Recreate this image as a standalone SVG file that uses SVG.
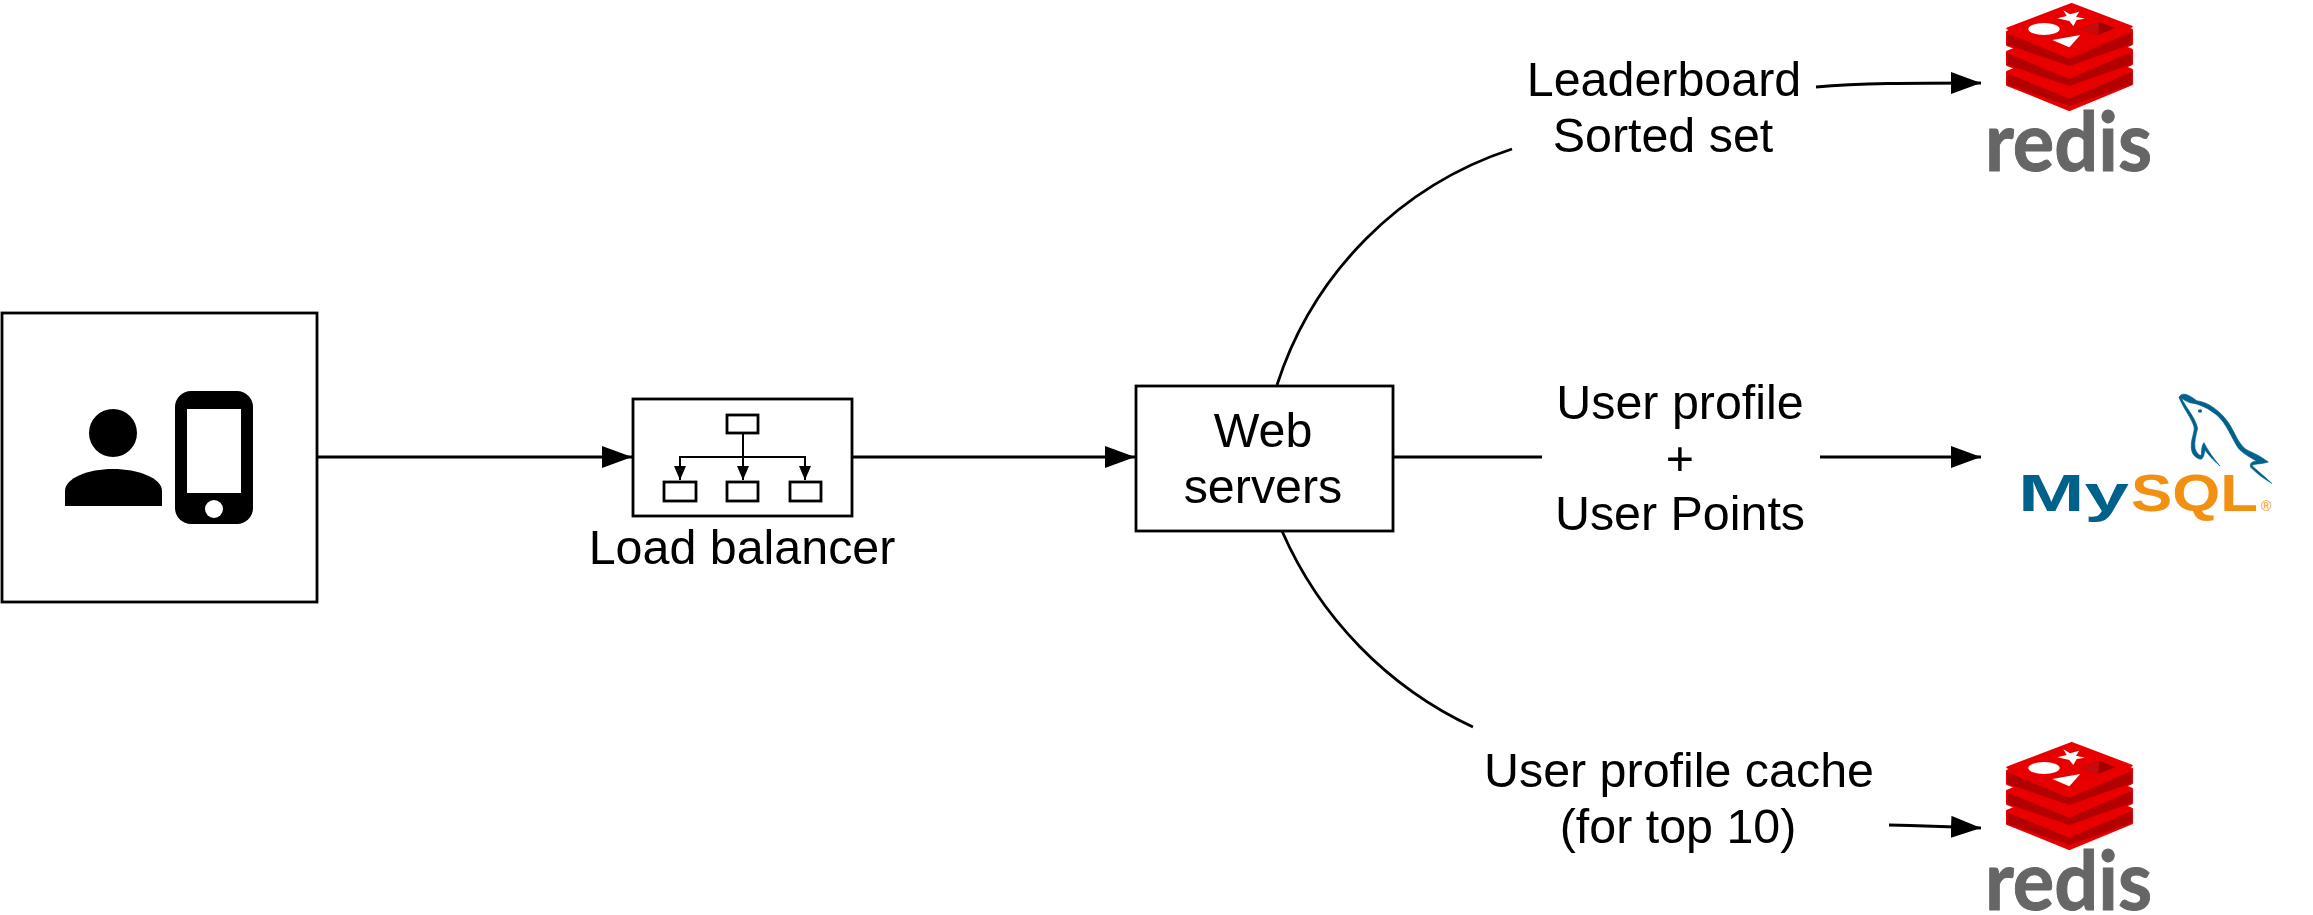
<svg xmlns="http://www.w3.org/2000/svg" xmlns:xlink="http://www.w3.org/1999/xlink" width="2313" height="915" viewBox="0 0 2313 915">
<style>
.box{fill:#fff;stroke:#000;stroke-width:2.8}
.edge{fill:none;stroke:#000;stroke-width:2.8}
.thin{fill:none;stroke:#000;stroke-width:2}
.mini{fill:#fff;stroke:#000;stroke-width:2.8}
text{font-family:"Liberation Sans",Arial,Helvetica,sans-serif;font-size:48.4px;fill:#000;text-anchor:middle}
.redis{font-family:Lato,"Noto Sans",sans-serif;font-size:83px;font-weight:700;fill:#666;stroke:#666;stroke-width:1;stroke-linejoin:round;text-anchor:start}
.my{font-size:52px;font-weight:700;text-anchor:start;fill:#00618a}
.sql{font-size:52px;font-weight:700;text-anchor:start;fill:#f29111}
.reg{font-size:14px;text-anchor:start;fill:#f29111}
</style>
<defs>
<marker id="head" markerUnits="userSpaceOnUse" markerWidth="30" markerHeight="22" refX="30" refY="11" orient="auto"><path d="M0 0L30 11L0 22Z" fill="#000"/></marker>
<marker id="mhead" markerUnits="userSpaceOnUse" markerWidth="14" markerHeight="12" refX="14" refY="6" orient="auto"><path d="M0 0L14 6L0 12Z" fill="#000"/></marker>
<g id="redis-layer">
<path d="M172 96L365 20L545 90V132L358 209L172 134Z" fill="#e80000" stroke="#e80000" stroke-width="8" stroke-linejoin="round"/>
<path d="M172 100L358 176L545 96V132L358 198L172 134Z" fill="#b30000"/>
</g>
<g id="redis-icon">
<use xlink:href="#redis-layer" href="#redis-layer" y="120"/>
<use xlink:href="#redis-layer" href="#redis-layer" y="60"/>
<use xlink:href="#redis-layer" href="#redis-layer"/>
<path d="M172 85L365 12L545 80L358 165Z" fill="#e80000" stroke="#e80000" stroke-width="6" stroke-linejoin="round"/>
<ellipse cx="282" cy="87" rx="47" ry="18" fill="#fff"/>
<path d="M340 31L360 43L388 35L378 50L405 56L380 60L370 78L358 63L322 55L350 48Z" fill="#fff"/>
<path d="M391 105L358 142L307 120Z" fill="#fff"/>
<path d="M393 88L448 65L496 85L445 104Z" fill="#a00000"/>
<path d="M393 88L448 65L445 104Z" fill="#c80a0a"/>
</g>
</defs>
<g id="connectors">
<path class="edge" d="M317 457H632" marker-end="url(#head)"/>
<path class="edge" d="M852 457H1135" marker-end="url(#head)"/>
<path class="edge" d="M1393 457H1542"/>
<path class="edge" d="M1820 457H1981" marker-end="url(#head)"/>
<path class="edge" d="M1277 385A366 366 0 0 1 1512 149"/>
<path class="edge" d="M1282 531A387 387 0 0 0 1473 727"/>
<path class="edge" d="M1816 87C1860 83 1910 83 1981 83" marker-end="url(#head)"/>
<path class="edge" d="M1889 825Q1930 826 1981 828" marker-end="url(#head)"/>
</g>
<g id="client">
<rect class="box" x="2" y="313" width="315" height="289"/>
<ellipse cx="113" cy="433" rx="24" ry="24"/>
<path d="M65 506V491C65 478 88 469 113 469C138 469 162 478 162 491V506Z"/>
<rect x="175" y="391" width="78" height="133" rx="16"/>
<rect x="187" y="409" width="54" height="84" fill="#fff"/>
<circle cx="214" cy="509" r="9" fill="#fff"/>
</g>
<g id="load-balancer">
<rect class="box" x="633" y="399" width="219" height="117"/>
<rect class="mini" x="727" y="415" width="31" height="18"/>
<rect class="mini" x="664" y="482" width="32" height="19"/>
<rect class="mini" x="727" y="482" width="31" height="19"/>
<rect class="mini" x="790" y="482" width="31" height="19"/>
<path class="thin" d="M743 433V480" marker-end="url(#mhead)"/>
<path class="thin" d="M743 457H680V480" marker-end="url(#mhead)"/>
<path class="thin" d="M743 457H805V480" marker-end="url(#mhead)"/>
<text x="742" y="564">Load balancer</text>
</g>
<g id="web-servers">
<rect class="box" x="1136" y="386" width="257" height="145"/>
<text x="1263" y="447">Web</text>
<text x="1263" y="503">servers</text>
</g>
<g id="label-leaderboard">
<text x="1664" y="96">Leaderboard</text>
<text x="1663" y="152">Sorted set</text>
</g>
<g id="label-user-profile">
<text x="1680" y="419">User profile</text>
<text x="1680" y="475">+</text>
<text x="1680" y="530">User Points</text>
</g>
<g id="label-cache">
<text x="1679" y="787">User profile cache</text>
<text x="1678" y="843">(for top 10)</text>
</g>
<g id="redis-top">
<use xlink:href="#redis-icon" href="#redis-icon" transform="translate(1950 0) scale(.33333)"/>
<text class="redis" x="1985" y="171" textLength="167" lengthAdjust="spacingAndGlyphs">redis</text>
</g>
<g id="redis-bottom">
<use xlink:href="#redis-icon" href="#redis-icon" transform="translate(1950 739) scale(.33333)"/>
<text class="redis" x="1985" y="910" textLength="167" lengthAdjust="spacingAndGlyphs">redis</text>
</g>
<g id="mysql">
<g transform="translate(2000 380) scale(.33333)">
<path d="M537 52C545 35 565 42 590 62C625 66 665 95 690 135C710 170 720 200 745 212C770 222 790 235 805 246C790 252 770 250 755 256C775 275 800 295 815 310C790 295 770 280 752 262C748 250 755 245 770 243C750 232 730 222 715 205C695 175 680 130 650 105C625 85 600 72 570 68C560 65 550 58 545 55C555 80 585 110 593 145C588 165 582 185 585 205C590 220 598 228 604 225C605 210 605 195 612 188C625 215 645 240 660 258C640 240 625 225 615 210C612 225 610 235 603 238C585 235 572 220 574 195C575 170 585 155 582 140C575 115 550 85 537 52Z" fill="#00618a" stroke="#00618a" stroke-width="2" stroke-linejoin="round"/>
<ellipse cx="600" cy="93" rx="6" ry="5" fill="#00618a"/>
</g>
<text class="my" x="2018" y="511" textLength="111" lengthAdjust="spacingAndGlyphs">My</text>
<text class="sql" x="2131" y="511" textLength="127" lengthAdjust="spacingAndGlyphs">SQL</text>
<text class="reg" x="2261" y="511">®</text>
</g>
</svg>
